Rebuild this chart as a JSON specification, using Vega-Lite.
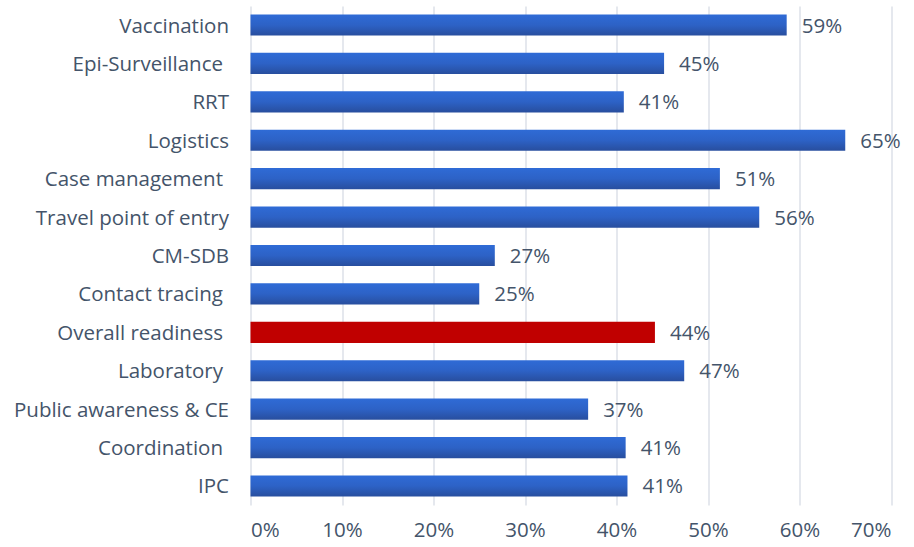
{
  "$schema": "https://vega.github.io/schema/vega-lite/v6.json",
  "width": 640.5,
  "height": 499,
  "autosize": {"type": "none"},
  "padding": {"left": 250.5, "top": 6, "right": 23, "bottom": 42},
  "background": "white",
  "config": {
    "view": {"stroke": null},
    "font": "Open Sans",
    "axis": {"labelFont": "Open Sans", "labelFontSize": 20.5, "labelColor": "#44546A", "labelLimit": 400}
  },
  "data": {
    "values": [
      {"category": "Vaccination", "value": 0.586, "highlight": false},
      {"category": "Epi-Surveillance", "value": 0.452, "highlight": false},
      {"category": "RRT", "value": 0.408, "highlight": false},
      {"category": "Logistics", "value": 0.650, "highlight": false},
      {"category": "Case management", "value": 0.513, "highlight": false},
      {"category": "Travel point of entry", "value": 0.556, "highlight": false},
      {"category": "CM-SDB", "value": 0.267, "highlight": false},
      {"category": "Contact tracing", "value": 0.250, "highlight": false},
      {"category": "Overall readiness", "value": 0.442, "highlight": true},
      {"category": "Laboratory", "value": 0.474, "highlight": false},
      {"category": "Public awareness & CE", "value": 0.369, "highlight": false},
      {"category": "Coordination", "value": 0.410, "highlight": false},
      {"category": "IPC", "value": 0.412, "highlight": false}
    ]
  },
  "encoding": {
    "y": {
      "field": "category",
      "type": "nominal",
      "sort": ["Vaccination", "Epi-Surveillance", "RRT", "Logistics", "Case management", "Travel point of entry", "CM-SDB", "Contact tracing", "Overall readiness", "Laboratory", "Public awareness & CE", "Coordination", "IPC"],
      "scale": {"paddingInner": 0.45, "paddingOuter": 0.22},
      "axis": {
        "title": null,
        "ticks": false,
        "domain": false,
        "grid": false,
        "labelOffset": 1.5,
        "labelPadding": {
          "condition": {"test": "indexof(['Epi-Surveillance','Case management','Contact tracing','Overall readiness','Laboratory','Coordination'], datum.value) >= 0", "value": 28},
          "value": 22
        }
      }
    },
    "x": {
      "field": "value",
      "type": "quantitative",
      "scale": {"domain": [0, 0.7], "nice": false},
      "axis": {
        "title": null,
        "format": ".0%",
        "values": [0, 0.1, 0.2, 0.3, 0.4, 0.5, 0.6, 0.7],
        "ticks": false,
        "domain": false,
        "grid": true,
        "gridColor": "#DDE1E8",
        "gridWidth": 1.5,
        "labelPadding": 15
      }
    }
  },
  "layer": [
    {
      "transform": [{"filter": "!datum.highlight"}],
      "mark": {
        "type": "bar",
        "color": {
          "gradient": "linear",
          "x1": 0, "y1": 0, "x2": 0, "y2": 1,
          "stops": [
            {"offset": 0, "color": "#2F6BD6"},
            {"offset": 0.5, "color": "#2D62C6"},
            {"offset": 1, "color": "#284E9E"}
          ]
        }
      }
    },
    {
      "transform": [{"filter": "datum.highlight"}],
      "mark": {"type": "bar", "color": "#C00000"}
    },
    {
      "mark": {"type": "text", "align": "left", "baseline": "middle", "dx": 15, "dy": 1.5, "fontSize": 20.5, "color": "#44546A", "font": "Open Sans"},
      "encoding": {
        "text": {"field": "value", "type": "quantitative", "format": ".0%"}
      }
    }
  ]
}
